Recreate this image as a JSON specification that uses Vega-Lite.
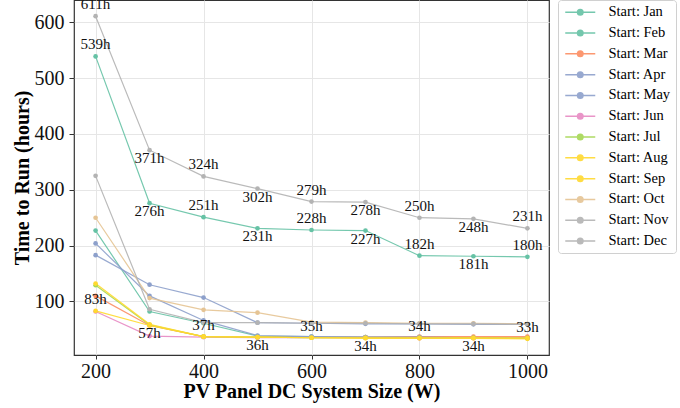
{
  "$schema": "https://vega.github.io/schema/vega-lite/v6.json",
  "autosize": "none",
  "width": 475,
  "height": 355,
  "padding": {"left": 74, "top": 0, "right": 131, "bottom": 53},
  "background": "#ffffff",
  "config": {
    "view": {"stroke": "#333333", "strokeWidth": 1.2},
    "font": "Liberation Serif",
    "axis": {
      "domain": false,
      "grid": true,
      "gridColor": "#e6e6e6",
      "gridWidth": 1,
      "tickColor": "#333333",
      "tickSize": 5,
      "labelFont": "Liberation Serif",
      "labelFontSize": 20,
      "labelColor": "#111111",
      "labelPadding": 5,
      "titleFont": "Liberation Serif",
      "titleFontSize": 20,
      "titleFontWeight": "bold",
      "titleColor": "#000000"
    },
    "legend": {
      "title": null,
      "symbolType": "M-3,0H3M-0.55,0A0.55,0.55,0,1,1,0.55,0A0.55,0.55,0,1,1,-0.55,0Z",
      "symbolSize": 100,
      "symbolStrokeWidth": 1.5,
      "symbolOffset": 10,
      "labelOffset": 21,
      "labelFont": "Liberation Serif",
      "labelFontSize": 14.5,
      "labelColor": "#000000",
      "rowPadding": 5.8,
      "padding": 5,
      "strokeColor": "#d0d0d0",
      "cornerRadius": 3,
      "fillColor": "#ffffff",
      "offset": 9
    }
  },
  "data": {
    "values": [
      {"series": "Start: Jan", "size": 200, "hours": 539}, {"series": "Start: Jan", "size": 300, "hours": 276}, {"series": "Start: Jan", "size": 400, "hours": 251}, {"series": "Start: Jan", "size": 500, "hours": 231}, {"series": "Start: Jan", "size": 600, "hours": 228}, {"series": "Start: Jan", "size": 700, "hours": 227}, {"series": "Start: Jan", "size": 800, "hours": 182}, {"series": "Start: Jan", "size": 900, "hours": 181}, {"series": "Start: Jan", "size": 1000, "hours": 180},
      {"series": "Start: Feb", "size": 200, "hours": 227}, {"series": "Start: Feb", "size": 300, "hours": 82}, {"series": "Start: Feb", "size": 400, "hours": 61}, {"series": "Start: Feb", "size": 500, "hours": 38}, {"series": "Start: Feb", "size": 600, "hours": 37}, {"series": "Start: Feb", "size": 700, "hours": 36}, {"series": "Start: Feb", "size": 800, "hours": 36}, {"series": "Start: Feb", "size": 900, "hours": 35}, {"series": "Start: Feb", "size": 1000, "hours": 35},
      {"series": "Start: Mar", "size": 200, "hours": 110}, {"series": "Start: Mar", "size": 300, "hours": 57}, {"series": "Start: Mar", "size": 400, "hours": 37}, {"series": "Start: Mar", "size": 500, "hours": 36}, {"series": "Start: Mar", "size": 600, "hours": 36}, {"series": "Start: Mar", "size": 700, "hours": 36}, {"series": "Start: Mar", "size": 800, "hours": 37}, {"series": "Start: Mar", "size": 900, "hours": 37}, {"series": "Start: Mar", "size": 1000, "hours": 37},
      {"series": "Start: Apr", "size": 200, "hours": 204}, {"series": "Start: Apr", "size": 300, "hours": 110}, {"series": "Start: Apr", "size": 400, "hours": 66}, {"series": "Start: Apr", "size": 500, "hours": 39}, {"series": "Start: Apr", "size": 600, "hours": 37}, {"series": "Start: Apr", "size": 700, "hours": 36}, {"series": "Start: Apr", "size": 800, "hours": 36}, {"series": "Start: Apr", "size": 900, "hours": 35}, {"series": "Start: Apr", "size": 1000, "hours": 35},
      {"series": "Start: May", "size": 200, "hours": 183}, {"series": "Start: May", "size": 300, "hours": 130}, {"series": "Start: May", "size": 400, "hours": 107}, {"series": "Start: May", "size": 500, "hours": 62}, {"series": "Start: May", "size": 600, "hours": 61}, {"series": "Start: May", "size": 700, "hours": 60}, {"series": "Start: May", "size": 800, "hours": 60}, {"series": "Start: May", "size": 900, "hours": 59}, {"series": "Start: May", "size": 1000, "hours": 59},
      {"series": "Start: Jun", "size": 200, "hours": 82}, {"series": "Start: Jun", "size": 300, "hours": 38}, {"series": "Start: Jun", "size": 400, "hours": 36}, {"series": "Start: Jun", "size": 500, "hours": 35}, {"series": "Start: Jun", "size": 600, "hours": 35}, {"series": "Start: Jun", "size": 700, "hours": 35}, {"series": "Start: Jun", "size": 800, "hours": 34}, {"series": "Start: Jun", "size": 900, "hours": 34}, {"series": "Start: Jun", "size": 1000, "hours": 34},
      {"series": "Start: Jul", "size": 200, "hours": 129}, {"series": "Start: Jul", "size": 300, "hours": 58}, {"series": "Start: Jul", "size": 400, "hours": 37}, {"series": "Start: Jul", "size": 500, "hours": 36}, {"series": "Start: Jul", "size": 600, "hours": 35}, {"series": "Start: Jul", "size": 700, "hours": 35}, {"series": "Start: Jul", "size": 800, "hours": 35}, {"series": "Start: Jul", "size": 900, "hours": 35}, {"series": "Start: Jul", "size": 1000, "hours": 34},
      {"series": "Start: Aug", "size": 200, "hours": 132}, {"series": "Start: Aug", "size": 300, "hours": 59}, {"series": "Start: Aug", "size": 400, "hours": 37}, {"series": "Start: Aug", "size": 500, "hours": 36}, {"series": "Start: Aug", "size": 600, "hours": 35}, {"series": "Start: Aug", "size": 700, "hours": 35}, {"series": "Start: Aug", "size": 800, "hours": 35}, {"series": "Start: Aug", "size": 900, "hours": 35}, {"series": "Start: Aug", "size": 1000, "hours": 35},
      {"series": "Start: Sep", "size": 200, "hours": 83}, {"series": "Start: Sep", "size": 300, "hours": 57}, {"series": "Start: Sep", "size": 400, "hours": 37}, {"series": "Start: Sep", "size": 500, "hours": 36}, {"series": "Start: Sep", "size": 600, "hours": 35}, {"series": "Start: Sep", "size": 700, "hours": 34}, {"series": "Start: Sep", "size": 800, "hours": 34}, {"series": "Start: Sep", "size": 900, "hours": 34}, {"series": "Start: Sep", "size": 1000, "hours": 33},
      {"series": "Start: Oct", "size": 200, "hours": 250}, {"series": "Start: Oct", "size": 300, "hours": 106}, {"series": "Start: Oct", "size": 400, "hours": 85}, {"series": "Start: Oct", "size": 500, "hours": 80}, {"series": "Start: Oct", "size": 600, "hours": 63}, {"series": "Start: Oct", "size": 700, "hours": 62}, {"series": "Start: Oct", "size": 800, "hours": 61}, {"series": "Start: Oct", "size": 900, "hours": 61}, {"series": "Start: Oct", "size": 1000, "hours": 60},
      {"series": "Start: Nov", "size": 200, "hours": 325}, {"series": "Start: Nov", "size": 300, "hours": 86}, {"series": "Start: Nov", "size": 400, "hours": 62}, {"series": "Start: Nov", "size": 500, "hours": 62}, {"series": "Start: Nov", "size": 600, "hours": 61}, {"series": "Start: Nov", "size": 700, "hours": 61}, {"series": "Start: Nov", "size": 800, "hours": 60}, {"series": "Start: Nov", "size": 900, "hours": 60}, {"series": "Start: Nov", "size": 1000, "hours": 59},
      {"series": "Start: Dec", "size": 200, "hours": 611}, {"series": "Start: Dec", "size": 300, "hours": 371}, {"series": "Start: Dec", "size": 400, "hours": 324}, {"series": "Start: Dec", "size": 500, "hours": 302}, {"series": "Start: Dec", "size": 600, "hours": 279}, {"series": "Start: Dec", "size": 700, "hours": 278}, {"series": "Start: Dec", "size": 800, "hours": 250}, {"series": "Start: Dec", "size": 900, "hours": 248}, {"series": "Start: Dec", "size": 1000, "hours": 231}
    ]
  },
  "encoding": {
    "x": {
      "field": "size", "type": "quantitative",
      "scale": {"domain": [160, 1040], "nice": false, "zero": false},
      "axis": {"values": [200, 400, 600, 800, 1000], "format": "d", "title": "PV Panel DC System Size (W)", "tickSize": 4, "labelPadding": 2, "titlePadding": 0}
    },
    "y": {
      "field": "hours", "type": "quantitative",
      "scale": {"domain": [4.1, 640], "nice": false, "zero": false},
      "axis": {"values": [100, 200, 300, 400, 500, 600], "format": "d", "title": "Time to Run (hours)", "titlePadding": 2}
    }
  },
  "layer": [
    {
      "mark": {"type": "line", "strokeWidth": 1.2, "opacity": 0.9},
      "encoding": {
        "color": {
          "field": "series", "type": "nominal",
          "scale": {
            "domain": ["Start: Jan", "Start: Feb", "Start: Mar", "Start: Apr", "Start: May", "Start: Jun", "Start: Jul", "Start: Aug", "Start: Sep", "Start: Oct", "Start: Nov", "Start: Dec"],
            "range": ["#66c2a5", "#66c2a5", "#fc8d62", "#8da0cb", "#8da0cb", "#e78ac3", "#a6d854", "#ffd92f", "#ffd92f", "#e5c494", "#b3b3b3", "#b3b3b3"]
          },
          "legend": {
            "encode": {
              "symbols": {
                "update": {
                  "fill": {"scale": "color", "field": "value"},
                  "stroke": {"scale": "color", "field": "value"},
                  "opacity": {"value": 1}
                }
              }
            }
          }
        },
        "order": {"field": "size", "type": "quantitative"}
      }
    },
    {
      "mark": {"type": "point", "filled": true, "size": 22, "opacity": 1},
      "encoding": {
        "color": {"field": "series", "type": "nominal"}
      }
    },
    {
      "transform": [
        {"filter": "indexof(['Start: Jan', 'Start: Sep', 'Start: Dec'], datum.series) >= 0 && datum.size % 200 == 0"},
        {"calculate": "datum.hours + 'h'", "as": "label"}
      ],
      "mark": {"type": "text", "font": "Liberation Serif", "fontSize": 15, "color": "#111111", "align": "center", "baseline": "alphabetic", "dy": -7},
      "encoding": {"text": {"field": "label"}}
    },
    {
      "transform": [
        {"filter": "indexof(['Start: Jan', 'Start: Sep', 'Start: Dec'], datum.series) >= 0 && datum.size % 200 == 100"},
        {"calculate": "datum.hours + 'h'", "as": "label"}
      ],
      "mark": {"type": "text", "font": "Liberation Serif", "fontSize": 15, "color": "#111111", "align": "center", "baseline": "alphabetic", "dy": 13},
      "encoding": {"text": {"field": "label"}}
    }
  ]
}
